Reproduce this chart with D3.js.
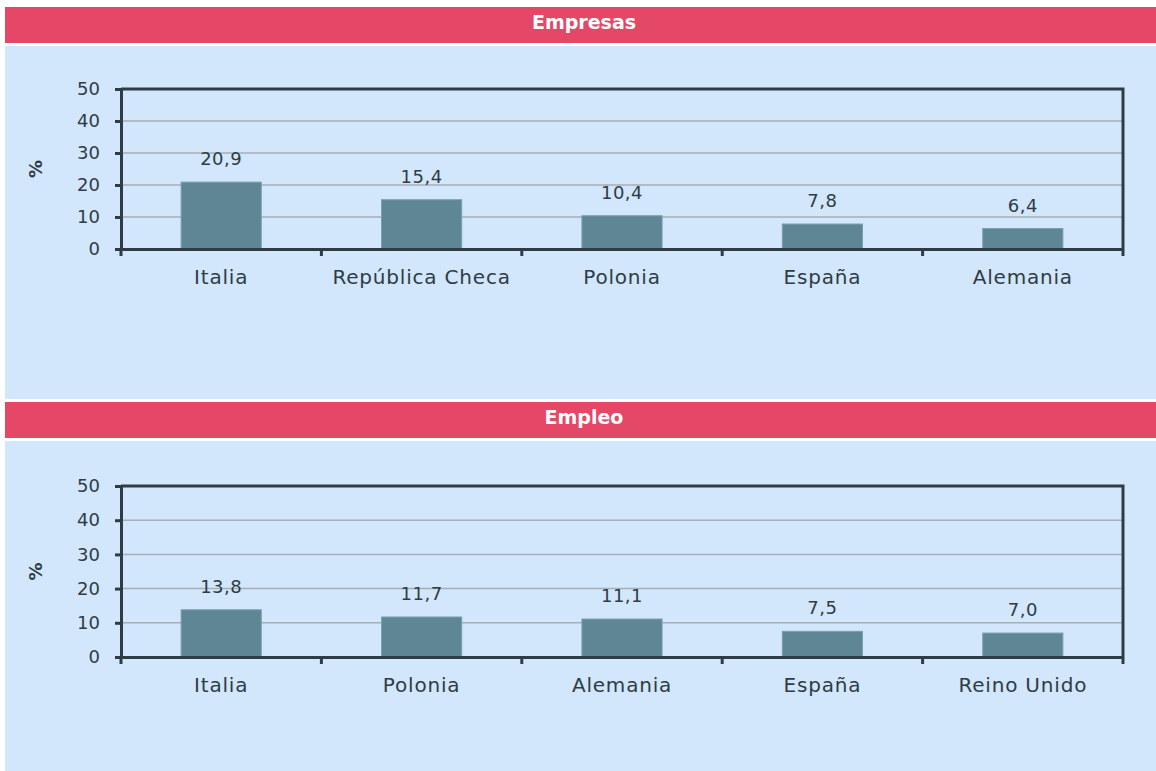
<!DOCTYPE html>
<html>
<head>
<meta charset="utf-8">
<script src="https://cdn.jsdelivr.net/npm/d3@7"></script>
<style>
  html, body { margin: 0; padding: 0; background: #fff; }
  svg { display: block; font-family: "DejaVu Sans", sans-serif; }
</style>
</head>
<body>
<svg id="chart" width="1156" height="771"></svg>
<script>
// Data
var empresasCats = ['Italia', 'República Checa', 'Polonia', 'España', 'Alemania'];
var empresasValues = [20.9, 15.4, 10.4, 7.8, 6.4];
var empleoCats = ['Italia', 'Polonia', 'Alemania', 'España', 'Reino Unido'];
var empleoValues = [13.8, 11.7, 11.1, 7.5, 7.0];
var yTicks = [0, 10, 20, 30, 40, 50];

(function () {
  'use strict';

  var svg = d3.select('#chart');
  var ink = '#2f3c46';
  var fmt = function (v) { return v.toFixed(1).replace('.', ','); };

  function panel(title, cats, values, top, headH, bodyTop, bodyBottom, plotTop, plotBottom) {
    // header strip
    svg.append('rect').attr('x', 5).attr('y', top).attr('width', 1151).attr('height', headH)
      .attr('fill', '#e54767');
    svg.append('text').attr('x', 584).attr('y', top + headH / 2 + 4)
      .attr('text-anchor', 'middle').attr('fill', '#fff')
      .style('font-size', '19px').style('font-weight', 'bold')
      .text(title);
    // body background
    svg.append('rect').attr('x', 5).attr('y', bodyTop).attr('width', 1151)
      .attr('height', bodyBottom - bodyTop).attr('fill', '#d2e6fc');

    var left = 121, right = 1123;
    var x = d3.scaleBand().domain(cats).range([left, right]).paddingInner(0).paddingOuter(0);
    var y = d3.scaleLinear().domain([0, 50]).range([plotBottom, plotTop]);
    var g = svg.append('g');

    // gridlines
    g.selectAll('line.grid').data(yTicks.filter(function (t) { return t > 0 && t < 50; }))
      .enter().append('line').attr('class', 'grid')
      .attr('x1', left).attr('x2', right)
      .attr('y1', function (d) { return y(d); }).attr('y2', function (d) { return y(d); })
      .attr('stroke', '#a7aeb4').attr('stroke-width', 1.5);

    // bars
    var bw = x.bandwidth() * 0.4;
    g.selectAll('rect.bar').data(values).enter().append('rect').attr('class', 'bar')
      .attr('x', function (d, i) { return x(cats[i]) + (x.bandwidth() - bw) / 2; })
      .attr('y', function (d) { return y(d); })
      .attr('width', bw)
      .attr('height', function (d) { return plotBottom - y(d); })
      .attr('fill', '#5e8695').attr('stroke', '#7aa0ae').attr('stroke-width', 1);

    // value labels
    g.selectAll('text.val').data(values).enter().append('text').attr('class', 'val')
      .attr('x', function (d, i) { return x(cats[i]) + x.bandwidth() / 2; })
      .attr('y', function (d) { return y(d) - 17; })
      .attr('text-anchor', 'middle').attr('fill', ink).style('font-size', '18px')
      .style('letter-spacing', '0.5px')
      .text(fmt);

    // top and right frame
    g.append('path')
      .attr('d', 'M' + left + ',' + plotTop + 'H' + right + 'V' + (plotBottom + 7))
      .attr('fill', 'none').attr('stroke', ink).attr('stroke-width', 3);

    // y axis
    var ya = g.append('g').attr('transform', 'translate(' + left + ',0)')
      .call(d3.axisLeft(y).tickValues(yTicks).tickSize(6).tickPadding(15));
    ya.select('.domain').attr('stroke', ink).attr('stroke-width', 3);
    ya.selectAll('.tick line').attr('stroke', ink).attr('stroke-width', 3);
    ya.selectAll('.tick text').attr('fill', ink).style('font-size', '18px')
      .style('font-family', '"DejaVu Sans", sans-serif');
    // extend y axis below x axis
    g.append('line').attr('x1', left).attr('x2', left).attr('y1', plotBottom).attr('y2', plotBottom + 7)
      .attr('stroke', ink).attr('stroke-width', 3);

    // x axis (category labels)
    var xa = g.append('g').attr('transform', 'translate(0,' + plotBottom + ')')
      .call(d3.axisBottom(x).tickSize(0).tickPadding(21));
    xa.select('.domain').attr('stroke', ink).attr('stroke-width', 3);
    xa.selectAll('.tick text').attr('fill', ink).style('font-size', '20px')
      .style('letter-spacing', '0.8px')
      .style('font-family', '"DejaVu Sans", sans-serif');

    // boundary ticks between categories
    g.selectAll('line.btick').data(cats.slice(1)).enter().append('line').attr('class', 'btick')
      .attr('x1', function (d) { return x(d); }).attr('x2', function (d) { return x(d); })
      .attr('y1', plotBottom).attr('y2', plotBottom + 7)
      .attr('stroke', ink).attr('stroke-width', 3);

    // % label
    svg.append('text')
      .attr('transform', 'translate(42,' + ((plotTop + plotBottom) / 2) + ') rotate(-90)')
      .attr('text-anchor', 'middle').attr('fill', ink)
      .style('font-size', '18px').style('font-weight', 'bold')
      .text('%');
  }

  panel('Empresas', empresasCats, empresasValues, 7, 36, 46, 399, 89, 249);
  panel('Empleo', empleoCats, empleoValues, 402, 36, 441, 771, 486, 657);
})();
</script>
</body>
</html>
